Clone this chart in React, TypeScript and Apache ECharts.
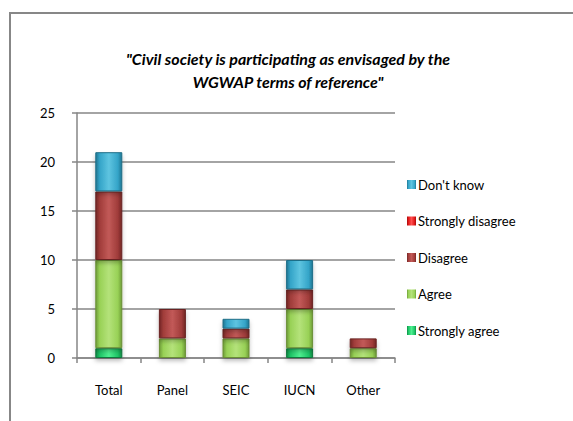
import React, { useEffect, useRef } from "react";
import * as echarts from "echarts";

const categories = ["Total", "Panel", "SEIC", "IUCN", "Other"];
const stronglyAgree = [1, 0, 0, 1, 0];
const agree = [9, 2, 2, 4, 1];
const disagree = [7, 3, 1, 2, 1];
const stronglyDisagree = [0, 0, 0, 0, 0];
const dontKnow = [4, 0, 1, 3, 0];
const legendOrder = ["Don't know", "Strongly disagree", "Disagree", "Agree", "Strongly agree"];
const titleLines = ["\"Civil society is participating as envisaged by the", "WGWAP terms of reference\""];

const FONT = "Lato, 'Open Sans', sans-serif";

function grad(light: string, mid: string, dark: string) {
  return new echarts.graphic.LinearGradient(0, 0, 1, 0, [
    { offset: 0, color: dark },
    { offset: 0.15, color: mid },
    { offset: 0.5, color: light },
    { offset: 0.85, color: mid },
    { offset: 1, color: dark },
  ]);
}

export default function App() {
  const ref = useRef<HTMLDivElement>(null);
  useEffect(() => {
    document.body.style.margin = "0";
    const chart = echarts.init(ref.current!, undefined, { renderer: "svg" });
    const mk = (name: string, data: number[], fill: any, border: string, legendColor: string) => ({
      name,
      type: "bar",
      stack: "s",
      data,
      barWidth: 27,
      itemStyle: { color: fill, borderColor: border, borderWidth: 1, shadowColor: "rgba(0,0,0,0.25)", shadowBlur: 4, shadowOffsetY: 3 },
      color: legendColor,
    });
    chart.setOption({
      animation: false,
      backgroundColor: "#ffffff",
      graphic: [
        { type: "rect", shape: { x: 10, y: 13, width: 700, height: 600 }, style: { fill: "none", stroke: "#878787", lineWidth: 2 }, silent: true },
        ...titleLines.map((t, i) => ({
          type: "text",
          x: 288,
          y: 58 + i * 23,
          silent: true,
          style: {
            text: t,
            align: "center",
            verticalAlign: "middle",
            fontFamily: FONT,
            fontSize: 16,
            fontStyle: "italic",
            fontWeight: "bold",
            fill: "#000",
          },
        })),
      ],
      legend: {
        orient: "vertical",
        left: 402,
        top: 172,
        itemWidth: 9,
        itemHeight: 9,
        itemGap: 21.5,
        data: legendOrder.map((n) => ({ name: n, itemStyle: { borderWidth: 0 } })),
        textStyle: { fontFamily: FONT, fontSize: 13, color: "#000", padding: [0, 0, 0, -3], lineHeight: 15 },
        icon: "rect",
      },
      grid: { left: 77, right: 178, top: 113, bottom: 63 },
      xAxis: {
        type: "category",
        data: categories,
        axisLine: { lineStyle: { color: "#868686", width: 1.5 } },
        axisTick: { show: true, length: 5, lineStyle: { color: "#868686", width: 1.5 } },
        axisLabel: { fontFamily: FONT, fontSize: 13, color: "#000", margin: 25 },
      },
      yAxis: {
        type: "value",
        min: 0,
        max: 25,
        interval: 5,
        axisLine: { show: true, lineStyle: { color: "#868686", width: 1.5 } },
        axisTick: { show: true, length: 5, lineStyle: { color: "#868686", width: 1.5 } },
        splitLine: { lineStyle: { color: "#868686", width: 1.5 } },
        axisLabel: { fontFamily: FONT, fontSize: 13, color: "#000", margin: 22 },
      },
      series: [
        mk("Strongly agree", stronglyAgree, grad("#4ef090", "#1ec466", "#0f8a45"), "#0f7a3c", "#1ec466"),
        mk("Agree", agree, grad("#b4e27a", "#98d156", "#6e9c38"), "#6a8f35", "#98d156"),
        mk("Disagree", disagree, grad("#c25a58", "#a03c3a", "#722624"), "#6a2422", "#a03c3a"),
        mk("Strongly disagree", stronglyDisagree, grad("#ff5050", "#e01818", "#a00c0c"), "#a00c0c", "#e01818"),
        mk("Don't know", dontKnow, grad("#5ec4e0", "#34a4c8", "#1f7692"), "#1f6e88", "#34a4c8"),
      ],
    });
    return () => chart.dispose();
  }, []);
  return <div ref={ref} style={{ width: 573, height: 421 }} />;
}
